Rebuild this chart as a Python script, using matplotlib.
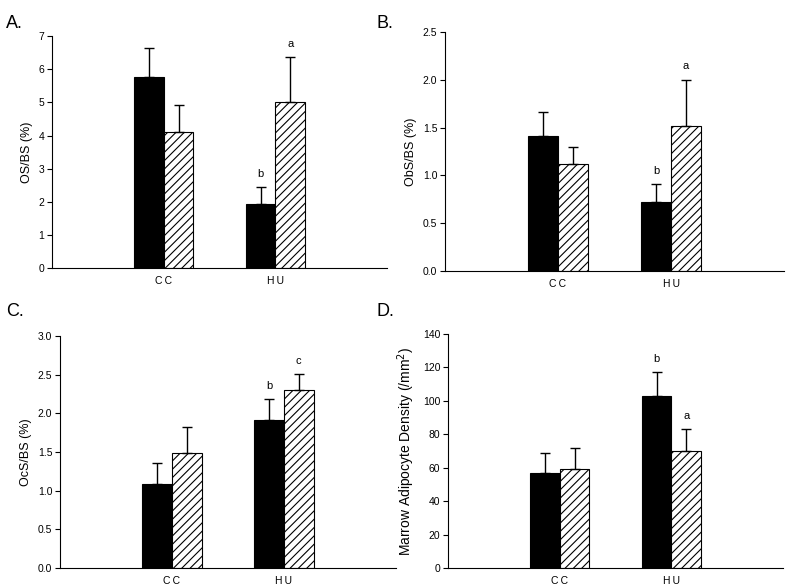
import numpy as np
import matplotlib
matplotlib.use("Agg")
import matplotlib.pyplot as plt

plt.rcParams["font.family"] = "Liberation Sans"
plt.rcParams["hatch.linewidth"] = 0.8

groups = ["CC", "HU"]

# panel A
os_black = [5.77, 1.93]
os_black_err = [0.86, 0.51]
os_hatch = [4.12, 5.00]
os_hatch_err = [0.81, 1.36]
os_marks = [["", "b"], ["", "a"]]

# panel B
ob_black = [1.41, 0.72]
ob_black_err = [0.25, 0.19]
ob_hatch = [1.12, 1.52]
ob_hatch_err = [0.18, 0.48]
ob_marks = [["", "b"], ["", "a"]]

# panel C
oc_black = [1.09, 1.92]
oc_black_err = [0.27, 0.26]
oc_hatch = [1.49, 2.30]
oc_hatch_err = [0.33, 0.21]
oc_marks = [["", "b"], ["", "c"]]

# panel D
ad_black = [57, 103]
ad_black_err = [12, 14]
ad_hatch = [59, 70]
ad_hatch_err = [13, 13]
ad_marks = [["", "b"], ["", "a"]]


def panel(ax, black, black_err, hatch, hatch_err, marks, ylim, yticks, fmt, ylabel, labsize=9):
    x = np.arange(1, len(groups) + 1)
    w = 0.265
    ax.bar(x - w / 2, black, w, color="black", edgecolor="black", linewidth=0.8,
           yerr=[np.zeros(len(black)), black_err], capsize=3.5,
           error_kw=dict(elinewidth=1, capthick=1, ecolor="black"))
    ax.bar(x + w / 2, hatch, w, color="white", edgecolor="black", linewidth=0.8,
           hatch="////", yerr=[np.zeros(len(hatch)), hatch_err], capsize=3.5,
           error_kw=dict(elinewidth=1, capthick=1, ecolor="black"))
    off = (ylim[1] - ylim[0]) * 0.035
    for i in range(len(groups)):
        if marks[0][i]:
            ax.text(x[i] - w / 2, black[i] + black_err[i] + off, marks[0][i],
                    ha="center", va="bottom", fontsize=8)
        if marks[1][i]:
            ax.text(x[i] + w / 2, hatch[i] + hatch_err[i] + off, marks[1][i],
                    ha="center", va="bottom", fontsize=8)
    ax.set_xlim(0, 3)
    ax.set_ylim(*ylim)
    ax.set_yticks(yticks)
    ax.set_yticklabels([fmt.format(t) for t in yticks], fontsize=7.5)
    ax.set_xticks(x)
    ax.set_xticklabels(["\u2009".join(g) for g in groups], fontsize=7.5)
    ax.tick_params(axis="x", length=0, pad=6)
    ax.tick_params(axis="y", length=3.5, width=0.8, direction="out", pad=2)
    ax.spines["top"].set_visible(False)
    ax.spines["right"].set_visible(False)
    ax.spines["left"].set_linewidth(0.8)
    ax.spines["bottom"].set_linewidth(0.8)
    ax.set_ylabel(ylabel, fontsize=labsize, labelpad=4)


fig = plt.figure(figsize=(7.92, 5.88), dpi=100)

axA = fig.add_axes([0.0657, 0.544, 0.423, 0.3946])
panel(axA, os_black, os_black_err, os_hatch, os_hatch_err, os_marks,
      (0, 7), np.arange(0, 8, 1), "{:.0f}", "OS/BS (%)")

axB = fig.add_axes([0.5619, 0.539, 0.428, 0.4065])
panel(axB, ob_black, ob_black_err, ob_hatch, ob_hatch_err, ob_marks,
      (0, 2.5), np.arange(0, 2.51, 0.5), "{:.1f}", "ObS/BS (%)")

axC = fig.add_axes([0.0758, 0.034, 0.424, 0.3946])
panel(axC, oc_black, oc_black_err, oc_hatch, oc_hatch_err, oc_marks,
      (0, 3.0), np.arange(0, 3.01, 0.5), "{:.1f}", "OcS/BS (%)")

axD = fig.add_axes([0.5657, 0.034, 0.423, 0.398])
panel(axD, ad_black, ad_black_err, ad_hatch, ad_hatch_err, ad_marks,
      (0, 140), np.arange(0, 141, 20), "{:.0f}", "Marrow Adipocyte Density (/mm$^2$)",
      labsize=10)

fig.text(0.008, 0.975, "A.", fontsize=13, va="top")
fig.text(0.475, 0.975, "B.", fontsize=13, va="top")
fig.text(0.008, 0.485, "C.", fontsize=13, va="top")
fig.text(0.475, 0.485, "D.", fontsize=13, va="top")

fig.savefig("out.png", dpi=100)
